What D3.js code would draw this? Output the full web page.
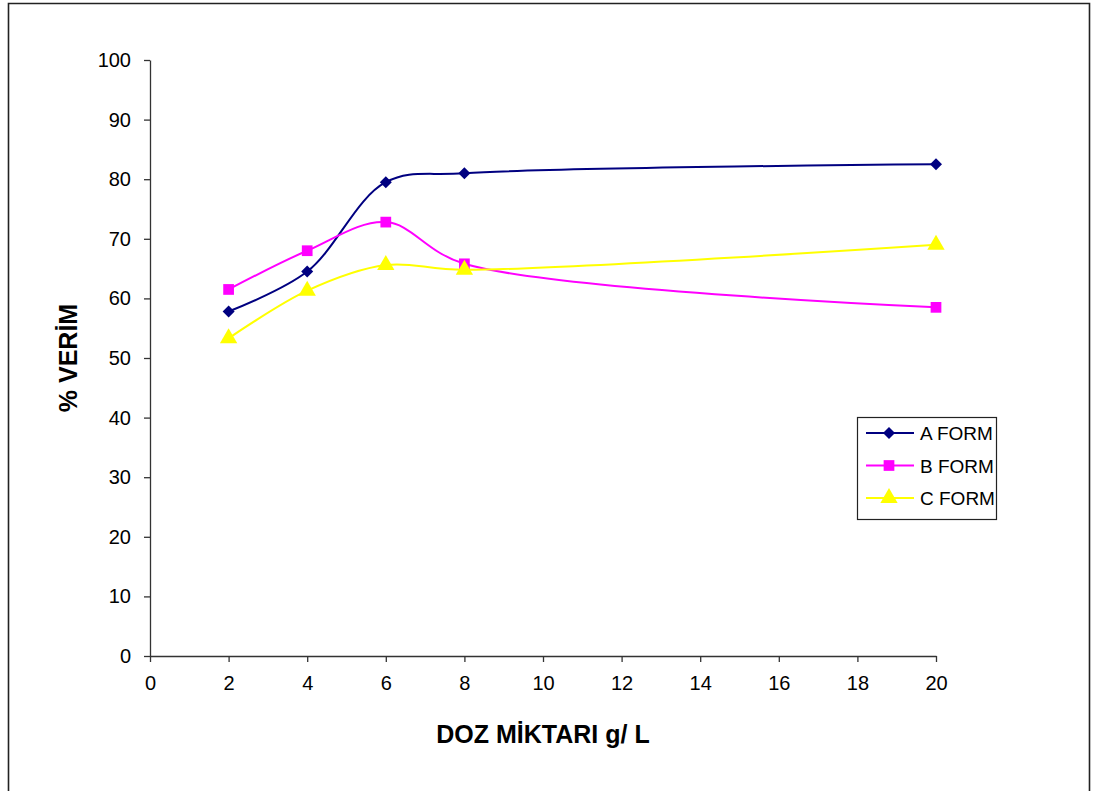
<!DOCTYPE html>
<html>
<head>
<meta charset="utf-8">
<script src="https://cdn.jsdelivr.net/npm/d3@7"></script>
<style>
  html, body { margin: 0; padding: 0; background: #fff; }
  svg { display: block; font-family: "Liberation Sans", Arial, sans-serif; }
</style>
</head>
<body>
<svg id="chart" width="1093" height="791"></svg>
<script>
// Dose amounts (g/L) and yield (%) for the three forms
const doses = [2, 4, 6, 8, 20];
const formA = [57.8, 64.5, 79.5, 81.0, 82.5];
const formB = [61.5, 68.0, 72.8, 65.8, 58.5];
const formC = [53.3, 61.3, 65.6, 64.8, 69.0];
const seriesNames = ["A FORM", "B FORM", "C FORM"];
const xTicks = [0, 2, 4, 6, 8, 10, 12, 14, 16, 18, 20];
const yTicks = [0, 10, 20, 30, 40, 50, 60, 70, 80, 90, 100];

const series = [
  { name: seriesNames[0], values: formA, color: "#000080", symbol: d3.symbolSquare, size: 72, rot: 45 },
  { name: seriesNames[1], values: formB, color: "#ff00ff", symbol: d3.symbolSquare, size: 115, rot: 0 },
  { name: seriesNames[2], values: formC, color: "#ffff00", symbol: d3.symbolTriangle, size: 130, rot: 0 }
];

const svg = d3.select("#chart");

// outer chart frame (open at the bottom)
svg.append("path")
  .attr("d", "M8.5,800 V3.5 H1089.5 V800")
  .attr("fill", "none")
  .attr("stroke", "#222")
  .attr("stroke-width", 1.6);

const x = d3.scaleLinear().domain([0, 20]).range([150, 936]);
const y = d3.scaleLinear().domain([0, 100]).range([656, 60]);

const axisColor = "#333";

// y axis
const yAxis = svg.append("g")
  .attr("transform", `translate(${x(0)},0)`)
  .call(d3.axisLeft(y).tickValues(yTicks).tickSize(6).tickPadding(13).tickSizeOuter(0));
yAxis.select(".domain").attr("stroke", axisColor).attr("stroke-width", 1.3);
yAxis.selectAll(".tick line").attr("stroke", axisColor).attr("stroke-width", 1.3);
yAxis.selectAll(".tick text")
  .attr("font-size", 20).attr("fill", "#000")
  .attr("font-family", "Liberation Sans, Arial, sans-serif");

// x axis
const xAxis = svg.append("g")
  .attr("transform", `translate(0,${y(0)})`)
  .call(d3.axisBottom(x).tickValues(xTicks).tickSize(6).tickPadding(14).tickSizeOuter(0));
xAxis.select(".domain").attr("stroke", axisColor).attr("stroke-width", 1.3);
xAxis.selectAll(".tick line").attr("stroke", axisColor).attr("stroke-width", 1.3);
xAxis.selectAll(".tick text")
  .attr("font-size", 20).attr("fill", "#000")
  .attr("font-family", "Liberation Sans, Arial, sans-serif");

// axis titles
svg.append("text")
  .attr("x", 543).attr("y", 743)
  .attr("text-anchor", "middle")
  .attr("font-size", 25).attr("font-weight", "bold")
  .text("DOZ MİKTARI g/ L");

svg.append("text")
  .attr("transform", "translate(77,358) rotate(-90)")
  .attr("text-anchor", "middle")
  .attr("font-size", 25).attr("font-weight", "bold")
  .text("% VERİM");

// smoothed series lines
const line = d3.line()
  .x((d, i) => x(doses[i]))
  .y(d => y(d))
  .curve(d3.curveCatmullRom.alpha(0.5));

series.forEach(s => {
  svg.append("path")
    .datum(s.values)
    .attr("fill", "none")
    .attr("stroke", s.color)
    .attr("stroke-width", 2)
    .attr("d", line);
});

// markers
series.forEach(s => {
  const sym = d3.symbol().type(s.symbol).size(s.size);
  svg.append("g").selectAll("path")
    .data(s.values)
    .join("path")
    .attr("transform", (d, i) => `translate(${x(doses[i])},${y(d)}) rotate(${s.rot})`)
    .attr("d", sym)
    .attr("fill", s.color);
});

// legend
const legend = svg.append("g");
legend.append("rect")
  .attr("x", 857.5).attr("y", 417.5)
  .attr("width", 139).attr("height", 102)
  .attr("fill", "#fff").attr("stroke", "#222").attr("stroke-width", 1.2);

series.forEach((s, k) => {
  const ly = 433 + k * 32.5;
  legend.append("line")
    .attr("x1", 866).attr("x2", 914)
    .attr("y1", ly).attr("y2", ly)
    .attr("stroke", s.color).attr("stroke-width", 2);
  legend.append("path")
    .attr("transform", `translate(889,${ly}) rotate(${s.rot})`)
    .attr("d", d3.symbol().type(s.symbol).size(s.size)())
    .attr("fill", s.color);
  legend.append("text")
    .attr("x", 920).attr("y", ly + 7)
    .attr("font-size", 19)
    .text(s.name);
});
</script>
</body>
</html>
